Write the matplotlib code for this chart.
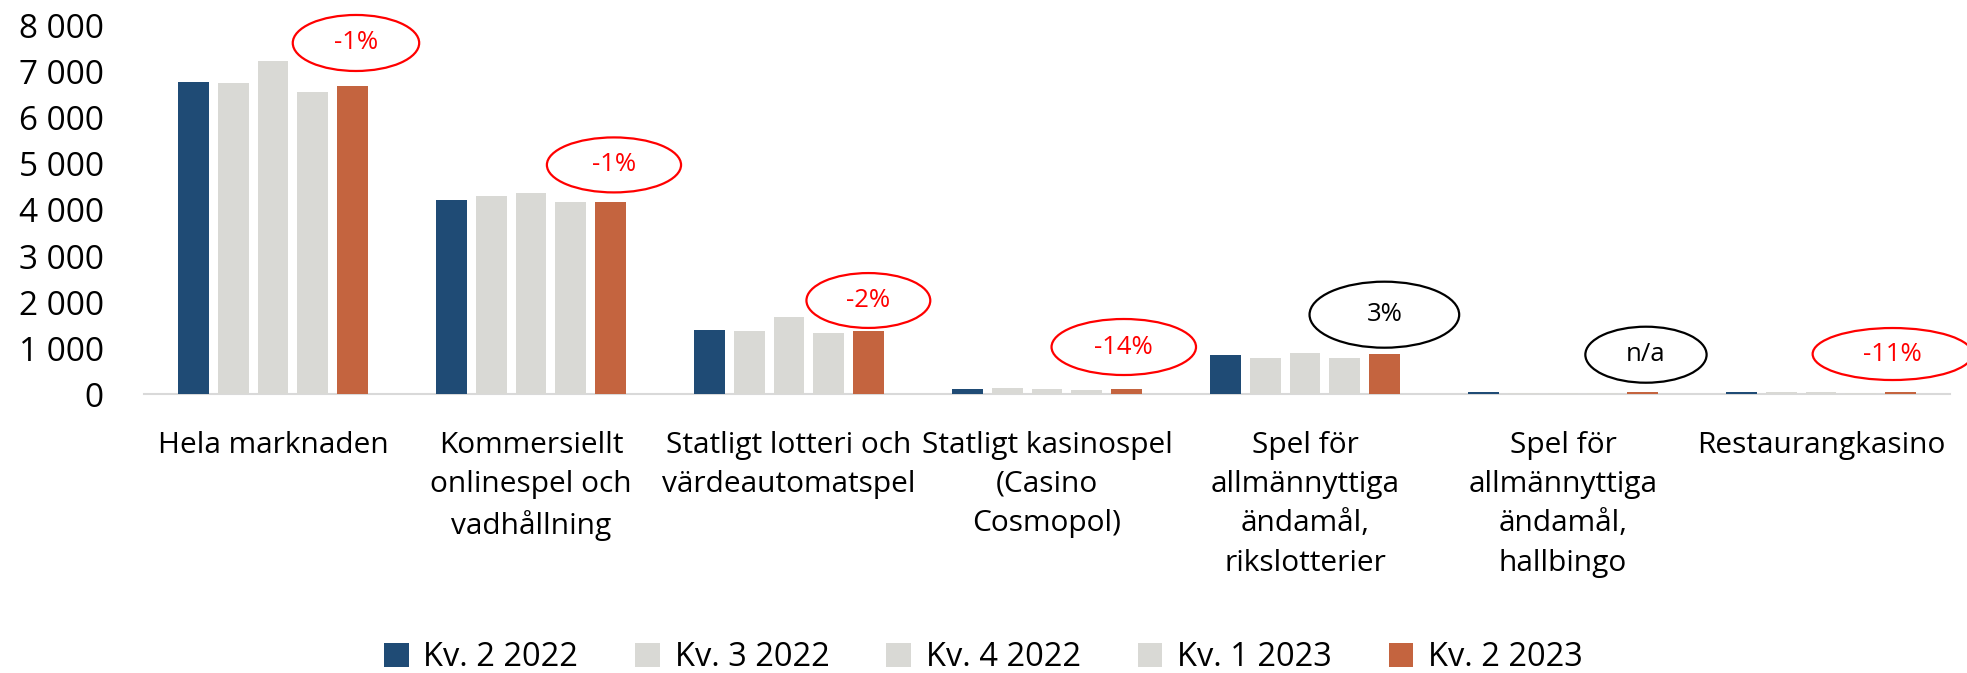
import numpy as np
import matplotlib
matplotlib.use("Agg")
import matplotlib.pyplot as plt
from matplotlib.patches import Ellipse, Patch
from matplotlib.ticker import FuncFormatter

plt.rcParams['font.family'] = ['Open Sans', 'DejaVu Sans']

categories = [
    "Hela marknaden",
    "Kommersiellt\nonlinespel och\nvadhållning",
    "Statligt lotteri och\nvärdeautomatspel",
    "Statligt kasinospel\n(Casino\nCosmopol)",
    "Spel för\nallmännyttiga\nändamål,\nrikslotterier",
    "Spel för\nallmännyttiga\nändamål,\nhallbingo",
    "Restaurangkasino",
]
series_names = ["Kv. 2 2022", "Kv. 3 2022", "Kv. 4 2022", "Kv. 1 2023", "Kv. 2 2023"]
kv2_2022 = [6770, 4220, 1400, 125, 855, 45, 50]
kv3_2022 = [6760, 4300, 1375, 140, 785, 40, 45]
kv4_2022 = [7240, 4370, 1680, 118, 905, 40, 42]
kv1_2023 = [6570, 4170, 1340, 100, 790, 40, 40]
kv2_2023 = [6690, 4170, 1375, 107, 876, 45, 45]
change_labels = ["-1%", "-1%", "-2%", "-14%", "3%", "n/a", "-11%"]
yticks = [0, 1000, 2000, 3000, 4000, 5000, 6000, 7000, 8000]

series = [kv2_2022, kv3_2022, kv4_2022, kv1_2023, kv2_2023]
colors = ["#1F4B75", "#D9D9D5", "#D9D9D5", "#D9D9D5", "#C4643F"]

# annotation layout (ellipse centre y, width in category units, height in value units)
ell_y = [7623, 4978, 2037, 1028, 1729, 861, 876]
ell_w = [0.49, 0.52, 0.48, 0.56, 0.58, 0.47, 0.62]
ell_h = [1215, 1193, 1190, 1215, 1432, 1215, 1128]
ell_dx = [0.014, 0.014, 0.0, -0.01, 0.0, 0.014, -0.03]

fig = plt.figure(figsize=(19.67, 6.73), dpi=100)
ax = fig.add_axes([144/1967, 1-394.4/673, 1806/1967, (394.4-25.6)/673])

x = np.arange(len(categories))
step = 0.1538
width = 0.12
for j, (vals, col) in enumerate(zip(series, colors)):
    ax.bar(x + (j-2)*step, vals, width=width, color=col, label=series_names[j],
           linewidth=0, zorder=3)

for i, lab in enumerate(change_labels):
    col = "#FF0000" if lab.startswith("-") else "black"
    cx = x[i] + 2*step + ell_dx[i]
    e = Ellipse((cx, ell_y[i]), ell_w[i], ell_h[i], facecolor='white',
                edgecolor=col, linewidth=1.6, clip_on=False, zorder=4)
    ax.add_patch(e)
    ax.text(cx, ell_y[i], lab, color=col, ha='center', va='center',
            fontsize=18.5, zorder=5, clip_on=False)

ax.set_xlim(-0.5, len(categories)-0.5)
ax.set_ylim(0, 8000)
ax.set_yticks(yticks)
ax.yaxis.set_major_formatter(FuncFormatter(lambda v, p: f"{int(v):,}".replace(",", " ")))
ax.set_xticks(x)
ax.set_xticklabels(categories, fontsize=21.5, linespacing=1.47)
ax.tick_params(axis='y', length=0, pad=29, labelsize=24)
ax.tick_params(axis='x', length=0, pad=26)
for s in ['top', 'right', 'left']:
    ax.spines[s].set_visible(False)
ax.spines['bottom'].set_color('#D9D9D9')
ax.spines['bottom'].set_linewidth(1.5)
ax.spines['bottom'].set_zorder(2)

handles = [Patch(facecolor=c, edgecolor='none') for c in colors]
fig.legend(handles, series_names, loc='center', bbox_to_anchor=(0.5, 1-658/673),
           ncol=5, frameon=False, fontsize=23.5, handlelength=0.75, handleheight=0.75,
           handletextpad=0.45, columnspacing=1.75, borderaxespad=0, borderpad=0)

fig.savefig("out.png", dpi=100, facecolor='white')
